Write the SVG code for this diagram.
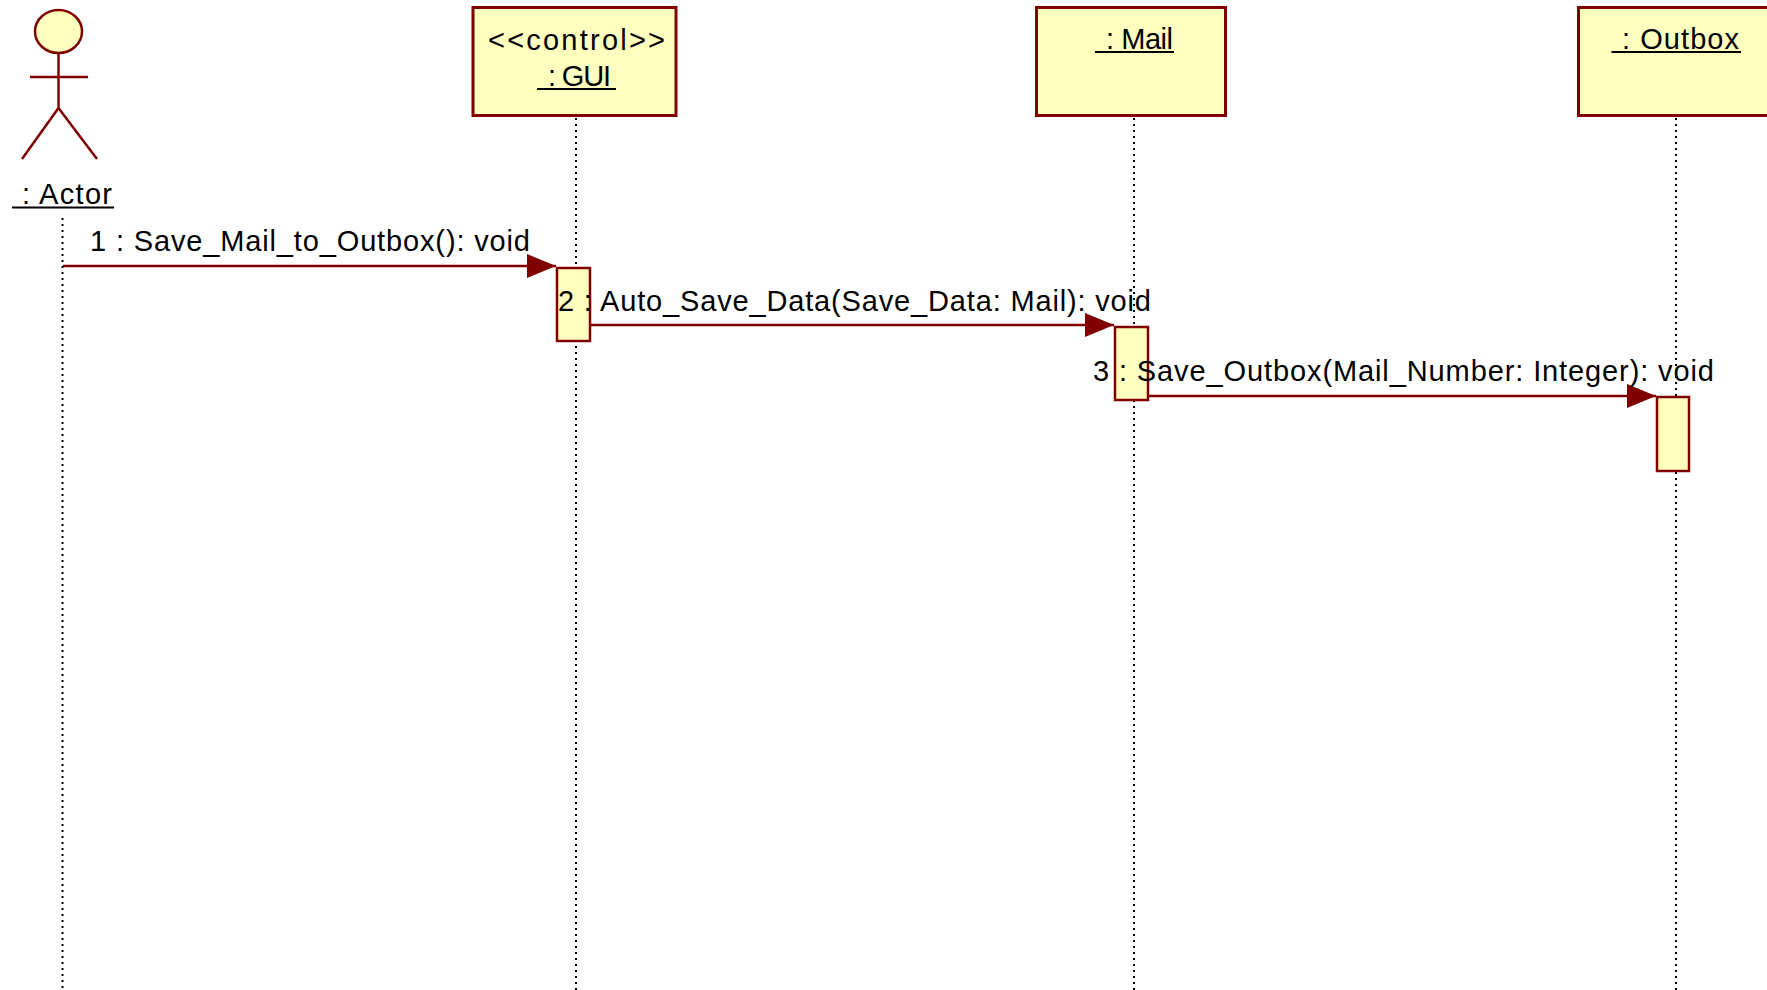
<svg xmlns="http://www.w3.org/2000/svg" width="1767" height="990" viewBox="0 0 1767 990">
<style>
.box{fill:#FFFFBF;stroke:#800000;stroke-width:3}
.act{fill:#FFFFBF;stroke:#800000;stroke-width:2.5}
.fig{fill:none;stroke:#800000;stroke-width:2.5}
.life{stroke:#000;stroke-width:2;stroke-dasharray:2 4;fill:none}
.msg{stroke:#800000;stroke-width:2.5;fill:none;marker-end:url(#arr)}
.ul{stroke:#000;stroke-width:2}
text{font-family:"Liberation Sans",Arial,sans-serif;font-size:29px;fill:#000}
</style>
<defs>
<marker id="arr" markerUnits="userSpaceOnUse" markerWidth="30" markerHeight="26" refX="29" refY="12" orient="auto">
<path d="M0,0 L29,12 L0,24 Z" fill="#800000"/>
</marker>
</defs>
<rect width="1767" height="990" fill="#fff"/>
<g id="lifelines">
<line class="life" x1="62.5" y1="218" x2="62.5" y2="990"/>
<line class="life" x1="576" y1="118" x2="576" y2="990"/>
<line class="life" x1="1134" y1="118" x2="1134" y2="990"/>
<line class="life" x1="1676" y1="118" x2="1676" y2="990"/>
</g>
<g id="actor">
<ellipse class="act" cx="58.5" cy="31.5" rx="23.5" ry="21.5"/>
<line class="fig" x1="58.5" y1="53" x2="58.5" y2="108"/>
<line class="fig" x1="30" y1="77" x2="88" y2="77"/>
<line class="fig" x1="58.5" y1="108" x2="22" y2="159"/>
<line class="fig" x1="58.5" y1="108" x2="97" y2="159"/>
<text x="22" y="204" textLength="90">: Actor</text>
<line class="ul" x1="12" y1="207.5" x2="114" y2="207.5"/>
</g>
<g id="gui">
<rect class="box" x="473" y="7.5" width="203" height="108"/>
<text x="488" y="50" textLength="177">&lt;&lt;control&gt;&gt;</text>
<text x="548" y="86" textLength="63">: GUI</text>
<line class="ul" x1="537" y1="89" x2="616" y2="89"/>
<rect class="act" x="557" y="268" width="33" height="73"/>
</g>
<g id="mail">
<rect class="box" x="1036.5" y="7.5" width="189" height="108"/>
<text x="1106" y="49" textLength="67">: Mail</text>
<line class="ul" x1="1095" y1="52" x2="1174" y2="52"/>
<rect class="act" x="1115" y="327" width="33" height="73"/>
</g>
<g id="outbox">
<rect class="box" x="1578.5" y="7.5" width="250" height="108"/>
<text x="1622" y="49" textLength="117">: Outbox</text>
<line class="ul" x1="1611.5" y1="52" x2="1741" y2="52"/>
<rect class="act" x="1657" y="397" width="32" height="74"/>
</g>
<g id="connectors">
<line class="msg" x1="63" y1="266" x2="556" y2="266"/>
<text x="90" y="251" textLength="440">1 : Save_Mail_to_Outbox(): void</text>
<line class="msg" x1="590" y1="325" x2="1114" y2="325"/>
<text x="558" y="311" textLength="593">2 : Auto_Save_Data(Save_Data: Mail): void</text>
<line class="msg" x1="1149" y1="396" x2="1656" y2="396"/>
<text x="1093" y="381" textLength="621">3 : Save_Outbox(Mail_Number: Integer): void</text>
</g>
</svg>
